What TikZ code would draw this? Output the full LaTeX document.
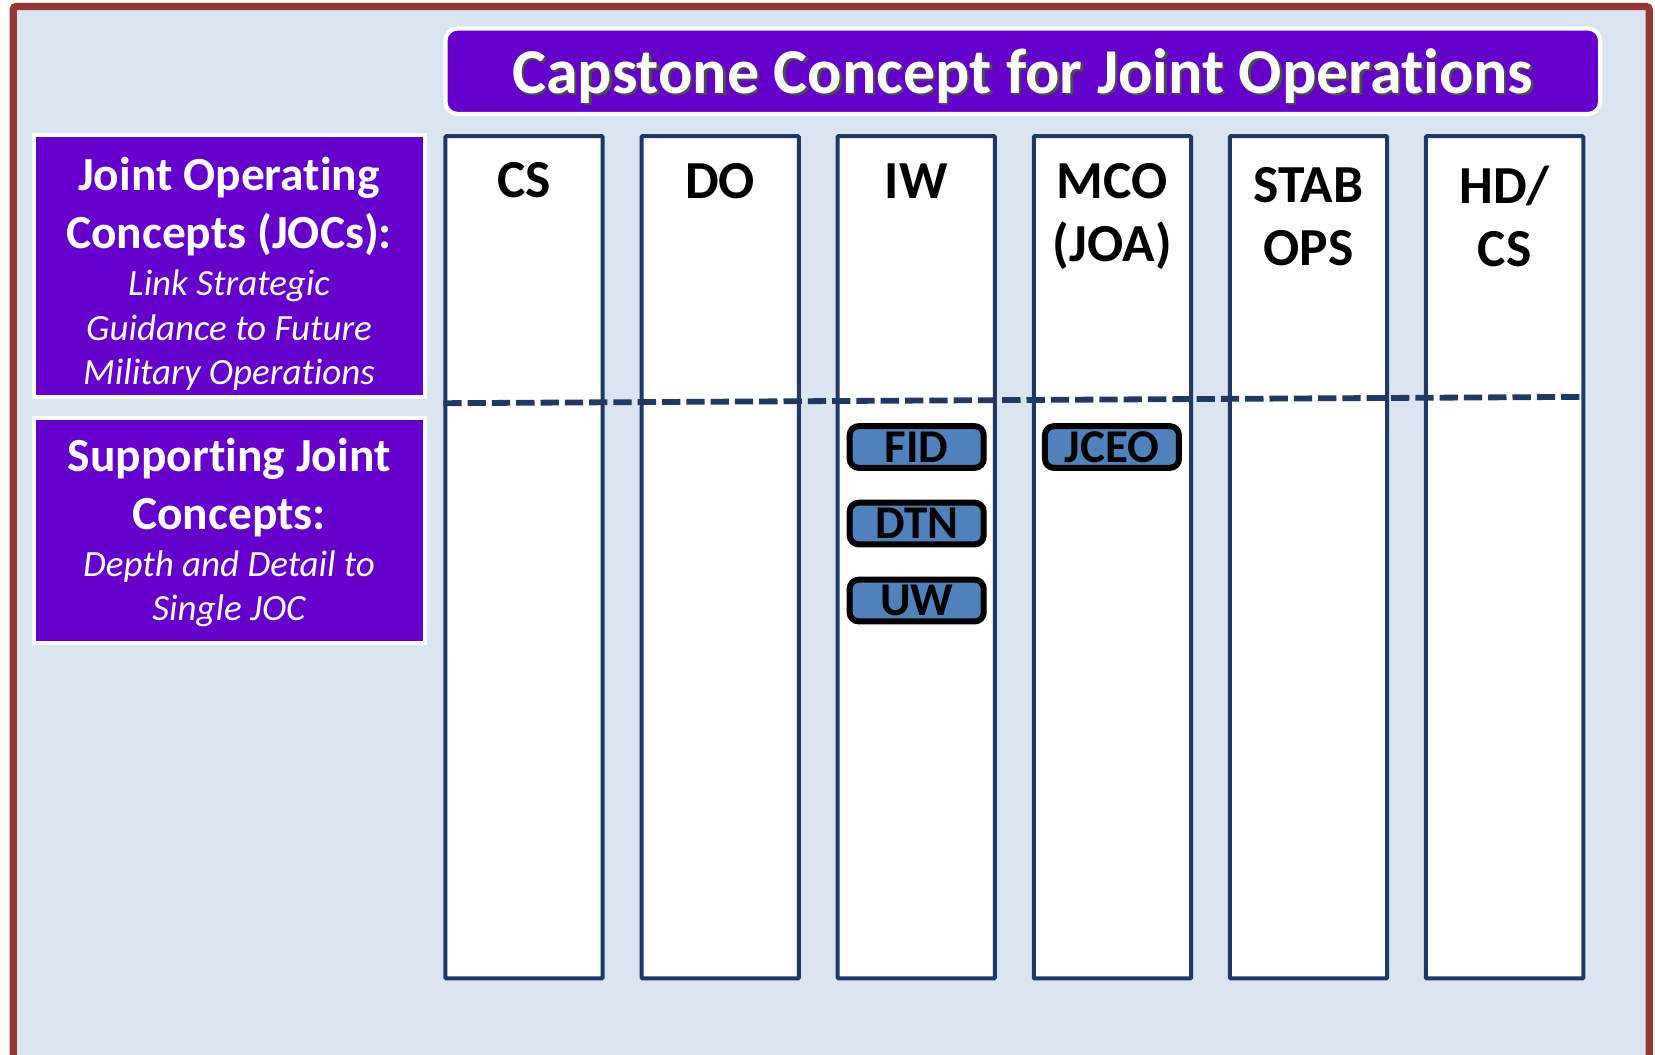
\documentclass[tikz,border=0pt]{standalone}
\usepackage{fontspec}
\setmainfont{Carlito}[Ligatures=CommonOff]
\definecolor{bgblue}{HTML}{DBE5F1}
\definecolor{framered}{HTML}{953735}
\definecolor{purp}{HTML}{6600CC}
\definecolor{navy}{HTML}{1F3864}
\definecolor{steel}{HTML}{4F81BD}
\def\pxu{1.0555pt}
\newcommand\shadowed[1]{\rlap{\kern2.5pt\raisebox{-2.5pt}{\textcolor{black!70}{#1}}}#1}
\tikzset{
  colbox/.style={draw=navy, fill=white, line width=4pt, inner sep=0pt,
    minimum width=149*\pxu, minimum height=798*\pxu, rounded corners=1pt},
  collabel/.style={font=\fontsize{53.5pt}{63.3pt}\selectfont\bfseries, align=center, inner sep=0pt, text=black},
  purpbox/.style={draw=white, fill=purp, line width=4*\pxu, inner sep=0pt},
  headtext/.style={font=\fontsize{47.5pt}{58pt}\selectfont\bfseries, text=white, align=center, inner sep=0pt},
  subtext/.style={font=\fontsize{37pt}{44.3pt}\selectfont\itshape, text=white, align=center, inner sep=0pt},
  tagbox/.style={draw=black, fill=steel, line width=6pt, rounded corners=9pt, inner sep=0pt,
    minimum width=127*\pxu, minimum height=39.5*\pxu, font=\fontsize{47pt}{50pt}\selectfont\bfseries},
  dashline/.style={draw=navy, line width=5.8pt, dash pattern=on 18.3pt off 6pt},
}
\begin{document}
\begin{tikzpicture}[x=1.0555pt,y=-1.0555pt]
\useasboundingbox (0,0) rectangle (1568,999);
\fill[white] (0,0) rectangle (1568,999);
\draw[framered, line width=7.3pt, fill=bgblue, rounded corners=3pt] (12.5,6.2) rectangle (1562.5,1003);

% title
\node[purpbox, rounded corners=12pt, minimum width=1094*\pxu, minimum height=81*\pxu,
  font=\fontsize{64pt}{70pt}\selectfont\bfseries, text=white] (title) at (969,67.5)
  {\raisebox{-6pt}[\height][\depth]{\shadowed{Capstone Concept for Joint Operations}}};

% left boxes
\node[purpbox, minimum width=371*\pxu, minimum height=248*\pxu] (joc) at (217.5,252) {};
\node[headtext] (joch) at (217,196) {Joint Operating\\Concepts (JOCs):};
\node[subtext] (jocs) at (217,313) {Link Strategic\\Guidance to Future\\Military Operations};

\node[purpbox, minimum width=371*\pxu, minimum height=213*\pxu] (sjc) at (217.5,502.5) {};
\node[headtext] (sjch) at (217,461.5) {Supporting Joint\\Concepts:};
\node[subtext] (sjcs) at (217,558) {Depth and Detail to\\Single JOC};

% columns
\foreach \i/\nm in {0/cs,1/do,2/iw,3/mco,4/stab,5/hdcs}{
  \node[colbox] (\nm) at ({496.5+185.8*\i},528) {};
}
\node[collabel] (lcs) at (cs.north |- 0,171) {CS};
\node[collabel] (ldo) at (do.north |- 0,172) {DO};
\node[collabel] (liw) at (iw.north |- 0,172) {IW};
\node[collabel] (lmco) at (mco.north |- 0,205) {MCO\\(JOA)};
\node[collabel] (lstab) at (stab.north |- 0,205) {STAB\\OPS};
\node[collabel] (lhdcs) at (hdcs.north |- 0,205) {HD/\\CS};

% dashed divider
\coordinate (dl) at (420,382);
\coordinate (dr) at (1502,376);
\draw[dashline] (dl) -- (dr);

% supporting concept tags
\node[tagbox] (fid) at (868.5,423.5) {FID};
\node[tagbox] (dtn) at (868.5,496) {DTN};
\node[tagbox] (uw) at (868.5,569) {UW};
\node[tagbox] (jceo) at (1053.5,423.5) {JCEO};
\end{tikzpicture}
\end{document}
